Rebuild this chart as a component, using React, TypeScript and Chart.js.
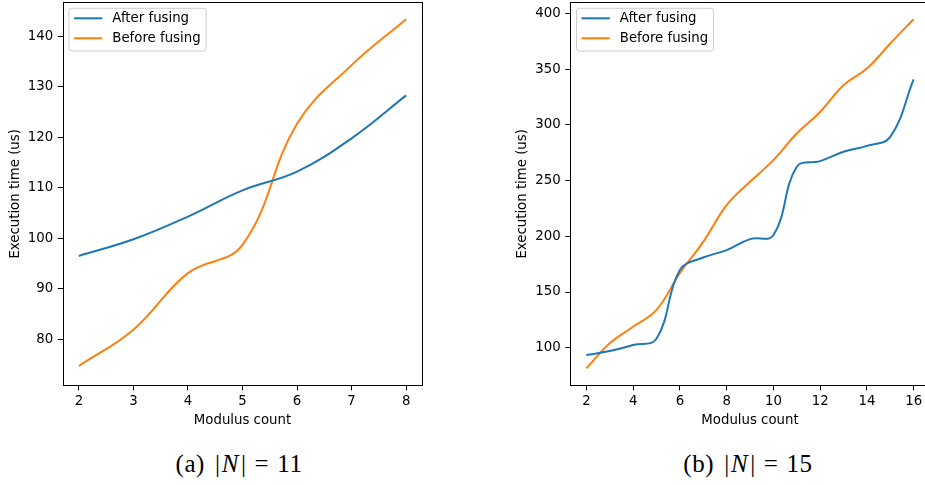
import React, { useEffect, useRef } from "react";
import { Chart, registerables } from "chart.js";

Chart.register(...registerables);

// ---------- data ----------
const seriesLabels = ["After fusing", "Before fusing"];
const seriesColors = ["#1f77b4", "#ff7f0e"];

// (a) |N| = 11
const modulusA = [2, 3, 4, 5, 6, 7, 8];
const afterA = [96.5, 99.8, 104.3, 109.5, 113.2, 119.8, 128.3];
const beforeA = [74.7, 81.9, 93.1, 98.7, 122.7, 134.3, 143.4];
const xTicksA = [2, 3, 4, 5, 6, 7, 8];
const yTicksA = [80, 90, 100, 110, 120, 130, 140];

// (b) |N| = 15
const modulusB = [2, 3, 4, 5, 6, 7, 8, 9, 10, 11, 12, 13, 14, 15, 16];
const afterB = [93.4, 97, 102.4, 108, 169.7, 181, 187.6, 197.5, 201, 262.4, 267.5, 276, 281.2, 289.3, 341];
const beforeB = [81.4, 104, 118.8, 134, 167, 195, 228, 249, 268.4, 292.3, 311.7, 335.7, 350.6, 373.1, 394.9];
const xTicksB = [2, 4, 6, 8, 10, 12, 14, 16];
const yTicksB = [100, 150, 200, 250, 300, 350, 400];

const xTitle = "Modulus count";
const yTitle = "Execution time (us)";

const FONT_FAMILY = "'DejaVu Sans', sans-serif";
const FONT_SIZE = 13.3;

const frameLegendPlugin = {
  id: "frameLegend",
  afterDatasetsDraw(chart: any) {
    const { ctx, chartArea: a } = chart;
    ctx.save();
    // frame (all four spines)
    ctx.strokeStyle = "#000";
    ctx.lineWidth = 1;
    const l = Math.round(a.left) + 0.5;
    const t = Math.round(a.top) + 0.5;
    const r = Math.round(a.right) - 0.5;
    const b = Math.round(a.bottom) - 0.5;
    ctx.strokeRect(l, t, r - l, b - t);

    // legend
    ctx.font = `${FONT_SIZE}px ${FONT_FAMILY}`;
    const ds = chart.data.datasets;
    let maxW = 0;
    ds.forEach((d: any) => {
      maxW = Math.max(maxW, ctx.measureText(d.label).width);
    });
    const bx = a.left + 6.5;
    const by = a.top + 6.3;
    const bw = 43.3 + maxW + 5.5;
    const bh = 42.7;
    ctx.beginPath();
    (ctx as any).roundRect(bx, by, bw, bh, 2.7);
    ctx.fillStyle = "rgba(255,255,255,0.8)";
    ctx.fill();
    ctx.strokeStyle = "#cccccc";
    ctx.lineWidth = 1;
    ctx.stroke();
    ds.forEach((d: any, i: number) => {
      const y = by + 10 + 20 * i;
      ctx.beginPath();
      ctx.strokeStyle = d.borderColor;
      ctx.lineWidth = 2;
      ctx.moveTo(bx + 5, y);
      ctx.lineTo(bx + 33.3, y);
      ctx.stroke();
      ctx.fillStyle = "#000";
      ctx.textBaseline = "middle";
      ctx.textAlign = "left";
      ctx.fillText(d.label, bx + 43.3, y);
    });
    ctx.restore();
  },
};

type PanelProps = {
  xs: number[];
  after: number[];
  before: number[];
  xTicks: number[];
  yTicks: number[];
  xMin: number;
  xMax: number;
  yMin: number;
  yMax: number;
  yAxisWidth: number;
  yTitlePad: number;
  rightPad: number;
  left: number;
  width: number;
};

const CANVAS_H = 432;
const AREA_TOP = 2;
const AREA_BOTTOM = 385.7;

function Panel(p: PanelProps) {
  const ref = useRef<HTMLCanvasElement | null>(null);
  useEffect(() => {
    if (!ref.current) return;
    const font = { family: FONT_FAMILY, size: FONT_SIZE };
    const chart = new Chart(ref.current, {
      type: "line",
      data: {
        datasets: [
          {
            label: seriesLabels[0],
            data: p.xs.map((x, i) => ({ x, y: p.after[i] })),
            borderColor: seriesColors[0],
            backgroundColor: seriesColors[0],
            borderWidth: 2,
            pointRadius: 0,
            tension: 0.4,
            fill: false,
          },
          {
            label: seriesLabels[1],
            data: p.xs.map((x, i) => ({ x, y: p.before[i] })),
            borderColor: seriesColors[1],
            backgroundColor: seriesColors[1],
            borderWidth: 2,
            pointRadius: 0,
            tension: 0.4,
            fill: false,
          },
        ],
      },
      options: {
        animation: false,
        responsive: false,
        layout: { padding: { top: AREA_TOP, right: p.rightPad, bottom: 0, left: 0 } },
        plugins: { legend: { display: false }, tooltip: { enabled: false } },
        scales: {
          x: {
            type: "linear",
            min: p.xMin,
            max: p.xMax,
            afterBuildTicks: (s: any) => {
              s.ticks = p.xTicks.map((v) => ({ value: v }));
            },
            afterFit: (s: any) => {
              s.height = CANVAS_H - AREA_BOTTOM;
              s.paddingLeft = 0;
              s.paddingRight = 0;
              s.paddingTop = 0;
              s.paddingBottom = 0;
            },
            border: { display: false },
            grid: {
              drawOnChartArea: false,
              drawTicks: true,
              tickLength: 4.7,
              color: "#000",
              lineWidth: 1,
            },
            ticks: {
              autoSkip: false,
              maxRotation: 0,
              padding: 3.5,
              color: "#000",
              font,
            },
            title: {
              display: true,
              text: xTitle,
              color: "#000",
              font,
              padding: { top: 0, bottom: 3.4 },
            },
          },
          y: {
            type: "linear",
            min: p.yMin,
            max: p.yMax,
            afterBuildTicks: (s: any) => {
              s.ticks = p.yTicks.map((v) => ({ value: v }));
            },
            afterFit: (s: any) => {
              s.width = p.yAxisWidth;
              s.paddingLeft = 0;
              s.paddingRight = 0;
              s.paddingTop = 0;
              s.paddingBottom = 0;
            },
            border: { display: false },
            grid: {
              drawOnChartArea: false,
              drawTicks: true,
              tickLength: 4.7,
              color: "#000",
              lineWidth: 1,
            },
            ticks: {
              autoSkip: false,
              padding: 4.7,
              color: "#000",
              font,
            },
            title: {
              display: true,
              text: yTitle,
              color: "#000",
              font,
              padding: { top: p.yTitlePad, bottom: 0 },
            },
          },
        },
      } as any,
      plugins: [frameLegendPlugin],
    });
    return () => chart.destroy();
  }, []);
  return (
    <canvas
      ref={ref}
      width={p.width}
      height={CANVAS_H}
      style={{ position: "absolute", left: p.left, top: 0, width: p.width, height: CANVAS_H }}
    />
  );
}

function Caption({ letter, n, center }: { letter: string; n: number; center: number }) {
  return (
    <div
      style={{
        position: "absolute",
        left: center,
        top: 450.7,
        transform: "translateX(-50%)",
        fontFamily: "'Liberation Serif', serif",
        fontSize: 25,
        lineHeight: "25px",
        whiteSpace: "nowrap",
        letterSpacing: "0.6px",
        color: "#000",
      }}
    >
      <span>({letter})</span>
      <span style={{ marginLeft: 10 }}>|</span>
      <span style={{ fontStyle: "italic", margin: "0 2px 0 1px" }}>N</span>
      <span>|</span>
      <span style={{ margin: "0 8px" }}>=</span>
      <span>{n}</span>
    </div>
  );
}

export default function App() {
  return (
    <div
      style={{
        position: "fixed",
        left: 0,
        top: 0,
        width: 925,
        height: 485,
        overflow: "hidden",
        background: "#fff",
      }}
    >
      <Panel
        xs={modulusA}
        after={afterA}
        before={beforeA}
        xTicks={xTicksA}
        yTicks={yTicksA}
        xMin={1.7}
        xMax={8.3}
        yMin={70.8}
        yMax={146.8}
        yAxisWidth={62.5}
        yTitlePad={7.3}
        rightPad={17.5}
        left={0}
        width={440}
      />
      <Panel
        xs={modulusB}
        after={afterB}
        before={beforeB}
        xTicks={xTicksB}
        yTicks={yTicksB}
        xMin={1.3}
        xMax={16.7}
        yMin={65.9}
        yMax={410.4}
        yAxisWidth={70}
        yTitlePad={14.8}
        rightPad={20}
        left={500}
        width={450}
      />
      <Caption letter="a" n={11} center={239} />
      <Caption letter="b" n={15} center={748} />
    </div>
  );
}
